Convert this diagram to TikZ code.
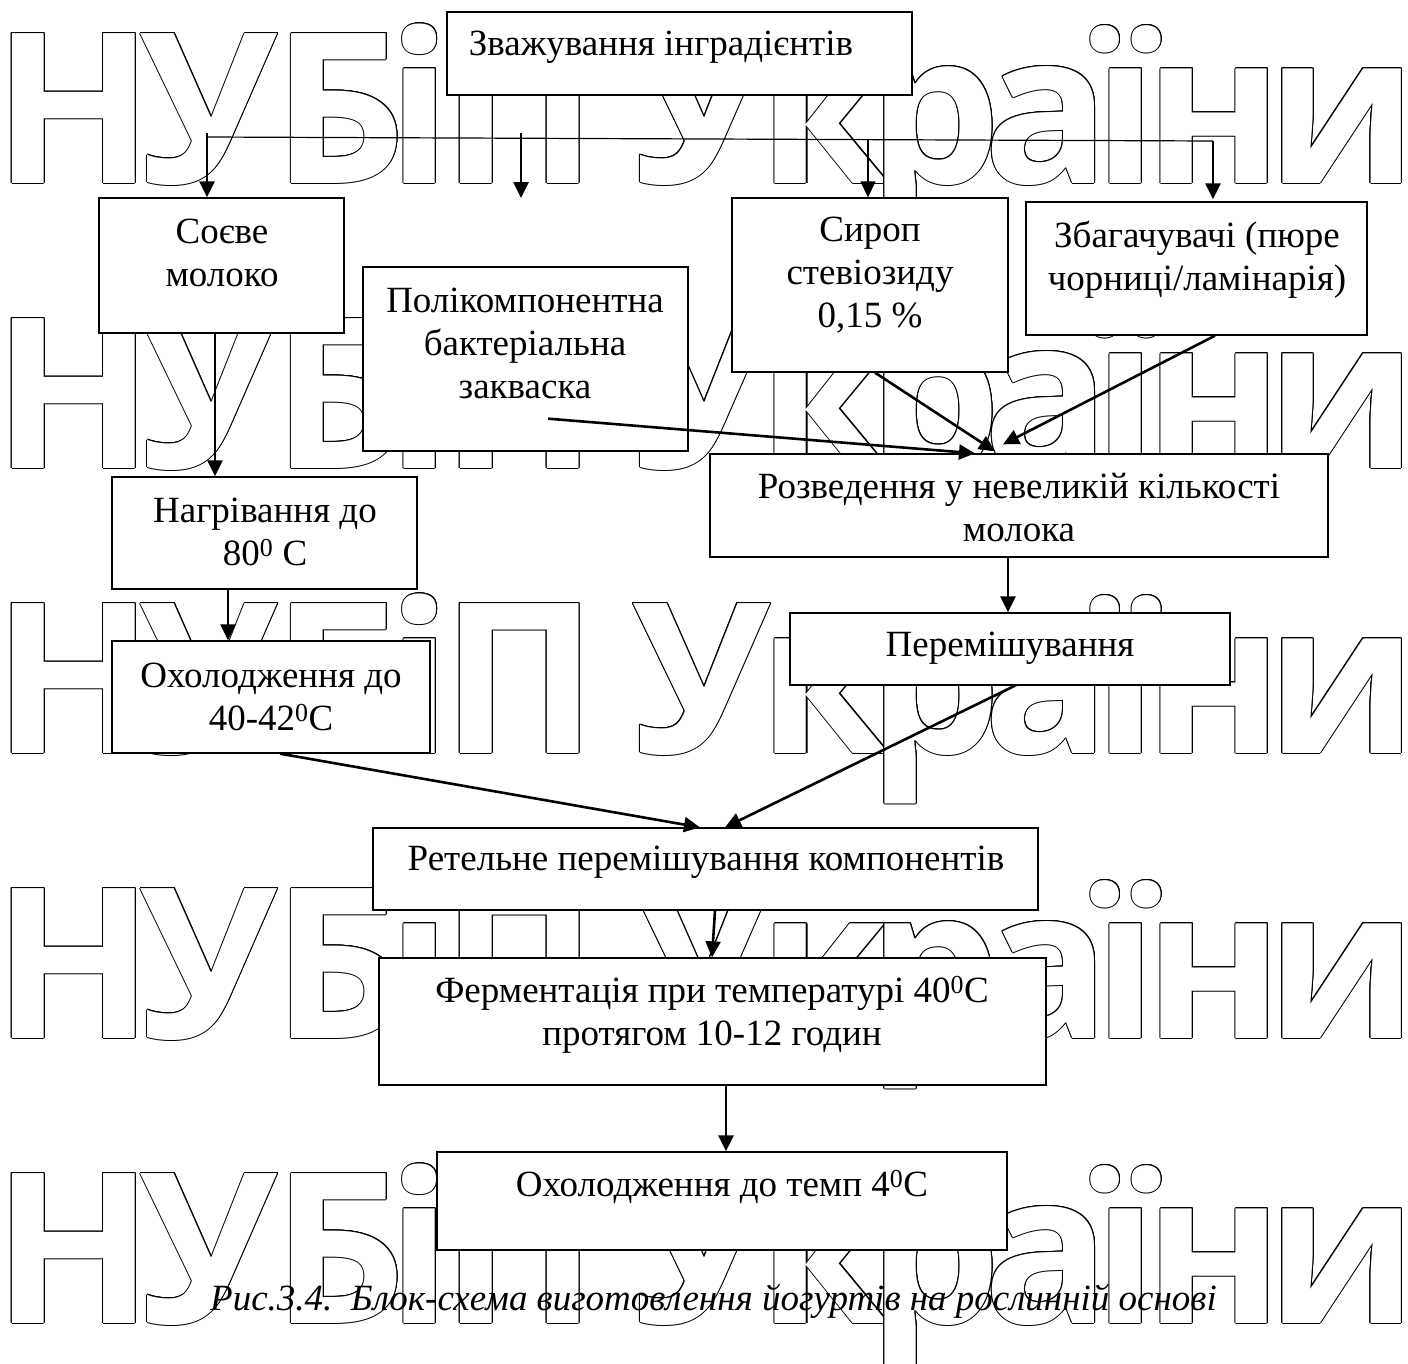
\documentclass[tikz,border=0pt]{standalone}
\usepackage{fontspec}
\setmainfont{Liberation Serif}
\newfontfamily\wmfont{Open Sans}
\usetikzlibrary{arrows.meta,calc}
\begin{document}
\begin{tikzpicture}[x=1pt,y=-1pt,
  box/.style={draw=black, line width=1.3pt, fill=white, inner sep=0pt},
  txt/.style={inner sep=0pt, align=center, font=\fontsize{37}{43}\selectfont},
  arr/.style={line width=2.6pt, -{Triangle[length=16pt,width=15pt]}},
  tarr/.style={line width=1.2pt, -{Triangle[length=16pt,width=15pt]}},
  thinline/.style={line width=1.2pt},
  wml/.style={inner sep=0pt, anchor=base, font=\wmfont\bfseries\fontsize{210}{210}\selectfont}
]
\useasboundingbox (0,0) rectangle (1408,1363);
\fill[white] (0,0) rectangle (1408,1363);

% watermark (outlined letters)
\foreach \yy [count=\r] in {183,468,753,1038,1323}{
  \foreach \ch/\cx [count=\q] in {Н/73.5, У/209.5, Б/340, і/420, П/519.5, У/702, к/824, р/935, а/1047, ї/1126, н/1214.5, и/1342}{
    \foreach \a [count=\k] in {0,30,...,330}{
      \node[wml] (wm\r-\q-\k) at ({\cx+1.0*cos(\a)},{\yy+1.0*sin(\a)}) {\ch};
    }
    \node[wml,text=white] (wm\r-\q) at (\cx,\yy) {\ch};
  }
}

% caption
\node[inner sep=0pt, anchor=base, font=\fontsize{37}{43}\selectfont\itshape] (cap) at (713.5,1310)
  {Рис.3.4.\ \ Блок-схема виготовлення йогуртів на рослинній основі};

% boxes
\node[box, minimum width=465, minimum height=83] (top) at (679.5,53.5) {};
\node[txt] (ttop) at (661,47) {Зважування інградієнтів};

\node[box, minimum width=245, minimum height=135] (soy) at (221.5,265.5) {};
\node[txt] (tsoy) at (222,253) {Соєве\\молоко};

\node[box, minimum width=325, minimum height=184] (starter) at (525.5,359) {};
\node[txt] (tstarter) at (525,343) {Полікомпонентна\\бактеріальна\\закваска};

\node[box, minimum width=276, minimum height=174] (syrup) at (870,285) {};
\node[txt] (tsyrup) at (870,275) {Сироп\\стевіозиду\\0,15 \%};

\node[box, minimum width=341, minimum height=133] (enrich) at (1196.5,268.5) {};
\node[txt] (tenrich) at (1197,259.5) {Збагачувачі (пюре\\чорниці/ламінарія)};

\node[box, minimum width=618, minimum height=103] (dilute) at (1019,505.5) {};
\node[txt] (tdilute) at (1019,507.5) {Розведення у невеликій кількості\\молока};

\node[box, minimum width=305, minimum height=112] (heat) at (264.5,533) {};
\node[txt] (theat) at (265,531.5) {Нагрівання до\\80\textsuperscript{0} C};

\node[box, minimum width=318, minimum height=112] (cool1) at (271,697) {};
\node[txt] (tcool1) at (271,697) {Охолодження до\\40-42\textsuperscript{0}C};

\node[box, minimum width=440, minimum height=72] (mix) at (1010,649) {};
\node[txt] (tmix) at (1010,648) {Перемішування};

\node[box, minimum width=665, minimum height=82] (mixall) at (705.5,869) {};
\node[txt] (tmixall) at (706,862) {Ретельне перемішування компонентів};

\node[box, minimum width=667, minimum height=127] (ferm) at (712.5,1021.5) {};
\node[txt] (tferm) at (712,1014.5) {Ферментація при температурі 40\textsuperscript{0}C\\протягом 10-12 годин};

\node[box, minimum width=570, minimum height=98] (cool2) at (722,1201) {};
\node[txt] (tcool2) at (722,1187) {Охолодження до темп 4\textsuperscript{0}C};

% distribution line
\coordinate (hl) at (207,137);
\coordinate (hr) at (1213,141);
\draw[thinline] (hl) -- (hr);
\coordinate (b1) at (207,133);
\draw[arr] (b1) -- (b1 |- soy.north);
\coordinate (b2s) at (521,133);
\coordinate (b2e) at (521,198);
\draw[arr] (b2s) -- (b2e);
\coordinate (b3) at (868,139);
\draw[tarr] (b3) -- (b3 |- syrup.north);
\coordinate (b4) at (1213,141);
\draw[arr] (b4) -- ($(b4 |- enrich.north)+(0,-2)$);

% flow
\coordinate (x1) at (215,0);
\draw[arr] (x1 |- soy.south) -- (x1 |- heat.north);
\coordinate (x2) at (228,0);
\draw[arr] (x2 |- heat.south) -- (x2 |- cool1.north);
\draw[arr] ($(cool1.south)+(9,0)$) -- ($(mixall.north)+(-5.5,0)$);
\draw[arr] ($(mix.south)+(5,0)$) -- ($(mixall.north)+(19.5,0)$);
\coordinate (x3) at (1008,0);
\draw[arr] (x3 |- dilute.south) -- (x3 |- mix.north);
\draw[arr] ($(starter.south)+(22.5,-33)$) -- ($(dilute.north)+(-44,0)$);
\draw[arr] ($(syrup.south)+(5,0)$) -- ($(dilute.north)+(-24,-2)$);
\draw[arr] ($(enrich.south)+(18.5,0)$) -- ($(dilute.north)+(-16,-9)$);
\draw[arr] ($(mixall.south)+(9.5,0)$) -- ($(ferm.north)+(-0.5,0)$);
\coordinate (x4) at (726,0);
\draw[arr] (x4 |- ferm.south) -- (x4 |- cool2.north);
\end{tikzpicture}
\end{document}
